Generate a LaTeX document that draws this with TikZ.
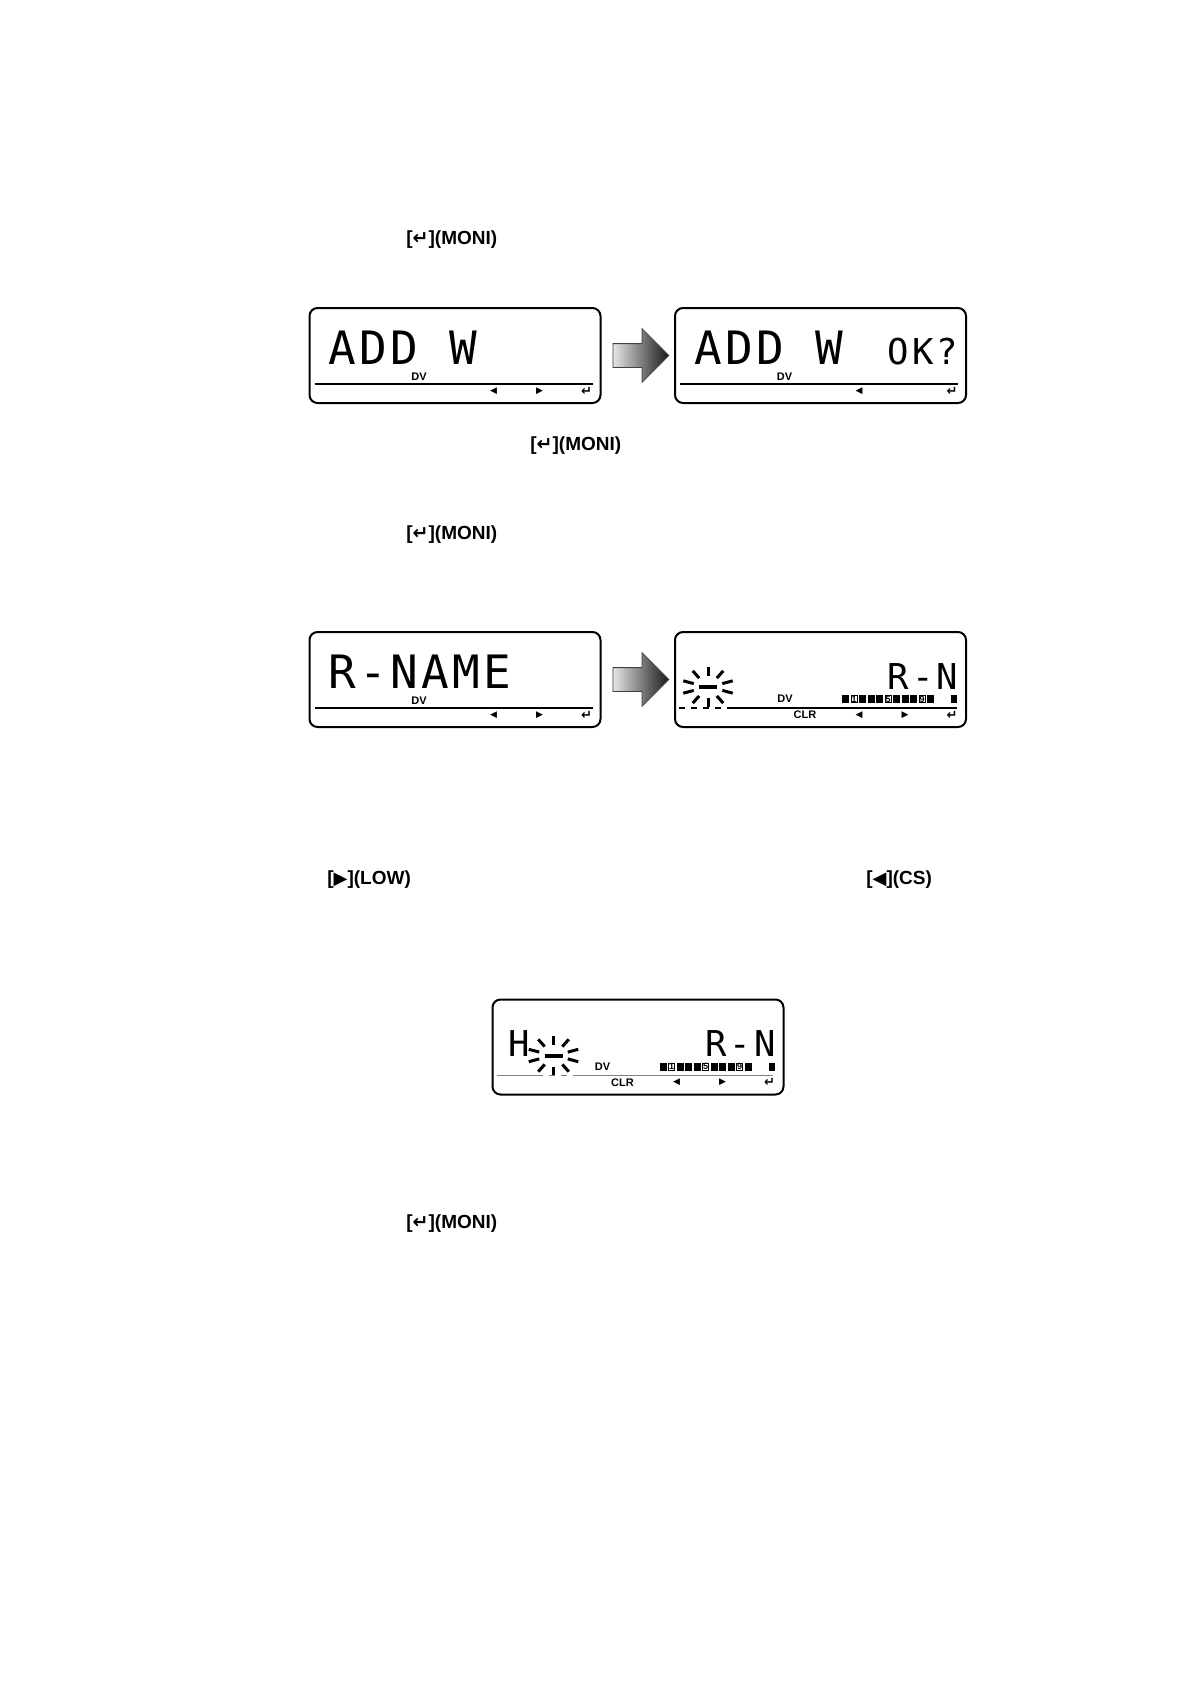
\documentclass[tikz,border=0pt]{standalone}
\usepackage{fontspec}
\setmainfont{Liberation Sans}
\newfontfamily\lcdfont[LetterSpace=7.2]{DejaVu Sans Mono}
\newfontfamily\lcdsmallfont[LetterSpace=8.7]{DejaVu Sans Mono}
\newfontfamily\symfont{DejaVu Sans}
\usetikzlibrary{positioning,shapes.arrows}
\newcommand{\entersym}{{\symfont\bfseries ↵}}
\newcommand{\rightsym}{{\symfont\fontsize{9}{9}\selectfont ▶}}
\newcommand{\leftsym}{{\symfont\fontsize{9}{9}\selectfont ◀}}
\tikzset{
	lcd/.style={%
		draw, line width=1pt, rounded corners=4pt,
		minimum width=145.5pt,
		minimum height=47.5pt,
		inner sep=0pt
	},
	lcdbig/.style={font=\lcdfont\fontsize{23}{23}\selectfont, anchor=base west, inner sep=0pt},
	lcdsmall/.style={font=\lcdsmallfont\fontsize{17.8}{18}\selectfont, anchor=base west, inner sep=0pt},
	tag/.style={font=\bfseries\fontsize{5.5}{6}\selectfont, inner sep=0pt},
	icon/.style={font=\symfont\fontsize{4.5}{5}\selectfont, inner sep=0pt},
	entericon/.style={font=\symfont\bfseries\fontsize{6.5}{7}\selectfont, inner sep=0pt},
	key/.style={font=\bfseries\fontsize{9.5}{11}\selectfont, inner sep=0pt, anchor=west},
	bigarrow/.style={%
		single arrow, draw=black!75, line width=0.4pt,
		left color=black!10, right color=black!90,
		minimum height=28pt, single arrow head extend=7.5pt,
		inner xsep=0pt, inner ysep=5.75pt
	},
	digit/.style={font=\bfseries\fontsize{4.5}{4.5}\selectfont, inner sep=0pt},
	lcdcursor/.pic={
		\draw[line width=2pt] (-9,0) -- (9,0);
		\foreach \a in {18,54,...,342}
			\draw[line width=1.5pt] ({15*cos(\a)},{11*sin(\a)}) -- ({26*cos(\a)},{20*sin(\a)});
	}
}
\begin{document}
\begin{tikzpicture}[x=0.5pt,y=-0.5pt]
	\useasboundingbox (0,0) rectangle (1191,1685);
	
	% key labels
	\node[key] (moni1) at (406,240) {[\entersym](MONI)};
	\node[key] (moni2) at (530,445.5) {[\entersym](MONI)};
	\node[key] (moni3) at (406,535) {[\entersym](MONI)};
	\node[key] (lowkey) at (327,880) {[\rightsym](LOW)};
	\node[key] (cskey) at (866,880) {[\leftsym](CS)};
	\node[key] (moni4) at (406,1223.5) {[\entersym](MONI)};
	
	% first row of displays
	\node[lcd] (addw) at (455,355.5) {};
	\node[bigarrow, right=5.5pt of addw] (step1) {};
	\node[lcd] (addok) at (820.5,355.5) {};
	
	\begin{scope}[shift={(addw.north west)}]
		\node[lcdbig] (addwtxt) at (20,57) {ADD W};
		\node[tag] (addwdv) at (110.5,69.5) {DV};
		\draw[line width=0.6pt] (6,77) -- (284,77);
		\node[icon] (addwl) at (185,84) {◀};
		\node[icon] (addwr) at (231,84) {▶};
		\node[entericon] (addwe) at (278,84) {↵};
	\end{scope}
	
	\begin{scope}[shift={(addok.north west)}]
		\node[lcdbig] (addoktxt) at (20,57) {ADD W};
		\node[lcdsmall] (oktxt) at (213.5,57) {OK?};
		\node[tag] (addokdv) at (110.5,69.5) {DV};
		\draw[line width=0.6pt] (6,77) -- (284,77);
		\node[icon] (addokl) at (185,84) {◀};
		\node[entericon] (addoke) at (278,84) {↵};
	\end{scope}
	
	% second row of displays
	\node[lcd] (rname) at (455,679.5) {};
	\node[bigarrow, right=5.5pt of rname] (step2) {};
	\node[lcd] (rnedit) at (820.5,679.5) {};
	
	\begin{scope}[shift={(rname.north west)}]
		\node[lcdbig] (rnametxt) at (20,57) {R-NAME};
		\node[tag] (rnamedv) at (110.5,69.5) {DV};
		\draw[line width=0.6pt] (6,77) -- (284,77);
		\node[icon] (rnamel) at (185,84) {◀};
		\node[icon] (rnamer) at (231,84) {▶};
		\node[entericon] (rnamee) at (278,84) {↵};
	\end{scope}
	
	\begin{scope}[shift={(rnedit.north west)}]
		\pic at (34,56) {lcdcursor};
		\node[lcdsmall] (rnedittxt) at (213.5,58) {R-N};
		\node[tag] (rneditdv) at (111,68) {DV};
		\foreach \i in {0,...,10}
			\fill ({168+8.5*\i},64) rectangle +(7,8);
		\fill (277,64) rectangle +(6,8);
		\foreach \i/\d in {1/1,5/5,9/9}{
			\fill[white] ({169+8.5*\i},65) rectangle +(5,6);
			\node[digit] at ({171.5+8.5*\i},68) {\d};
		}
		\draw[line width=0.6pt, dashed] (5,77) -- (58,77);
		\draw[line width=0.6pt] (58,77) -- (283,77);
		\node[tag] (rneditclr) at (131,84) {CLR};
		\node[icon] (rneditl) at (185,84) {◀};
		\node[icon] (rneditr) at (231,84) {▶};
		\node[entericon] (rnedite) at (278,84) {↵};
	\end{scope}
	
	% third display
	\node[lcd] (rnnext) at (638,1047) {};
	
	\begin{scope}[shift={(rnnext.north west)}]
		\node[lcdsmall] (rnnexth) at (17,58) {H};
		\pic at (62,57) {lcdcursor};
		\node[lcdsmall] (rnnexttxt) at (213.5,58) {R-N};
		\node[tag] (rnnextdv) at (111,68) {DV};
		\foreach \i in {0,...,10}
			\fill ({168+8.5*\i},64) rectangle +(7,8);
		\fill (277,64) rectangle +(6,8);
		\foreach \i/\d in {1/1,5/5,9/9}{
			\fill[white] ({169+8.5*\i},65) rectangle +(5,6);
			\node[digit] at ({171.5+8.5*\i},68) {\d};
		}
		\draw[line width=0.6pt, gray] (5,77) -- (45,77);
		\draw[line width=0.6pt, gray, dashed] (45,77) -- (85,77);
		\draw[line width=0.6pt, gray] (85,77) -- (281,77);
		\node[tag] (rnnextclr) at (131,84) {CLR};
		\node[icon] (rnnextl) at (185,84) {◀};
		\node[icon] (rnnextr) at (231,84) {▶};
		\node[entericon] (rnnexte) at (278,84) {↵};
	\end{scope}
	
\end{tikzpicture}
\end{document}
